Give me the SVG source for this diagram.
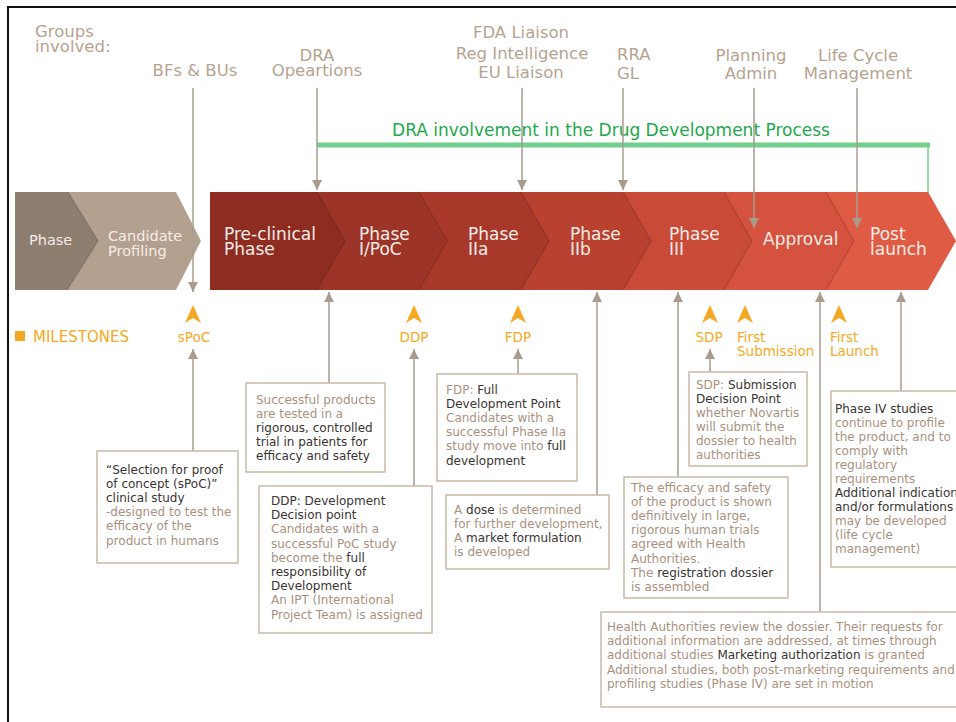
<svg xmlns="http://www.w3.org/2000/svg" width="956" height="722" viewBox="0 0 956 722">
<style>
text{font-family:"DejaVu Sans","Liberation Sans",sans-serif}
.top{font-size:16.5px;fill:#b5a391}
.ch{font-size:17px;fill:#f6ece8}
.chs{font-size:14.5px;fill:#f6ece8}
.ms{font-size:13.5px;fill:#f7a823}
.bx{fill:#fff;stroke:#c9b9aa;stroke-width:1.5}
.t{font-size:12px;fill:#a8927f}
.d{fill:#3a3432}
.ln{stroke:#a99c8f;stroke-width:1.5;fill:none}
.edge{fill:none;stroke:#000;stroke-opacity:.13;stroke-width:1.5}
.oa{fill:#f7a823}
</style>
<defs>
<marker id="ah" viewBox="0 0 10 10" refX="10" refY="5" markerWidth="10" markerHeight="10" orient="auto" markerUnits="userSpaceOnUse">
<path d="M0,0 L10,5 L0,10 Z" fill="#a99c8f"/>
</marker>
</defs>
<rect width="956" height="722" fill="#fff"/>
<path d="M8,722 V7 H956" fill="none" stroke="#111" stroke-width="2"/>

<g id="groups-label"><text class="top" x="35" y="37">Groups</text><text class="top" x="35" y="52">involved:</text></g>
<g id="grp-bfs"><text class="top" x="195" y="76" text-anchor="middle">BFs &amp; BUs</text></g>
<g id="grp-dra"><text class="top" x="317" y="61" text-anchor="middle">DRA</text><text class="top" x="317" y="76" text-anchor="middle">Opeartions</text></g>
<g id="grp-fda"><text class="top" x="521" y="38" text-anchor="middle">FDA Liaison</text><text class="top" x="522" y="59" text-anchor="middle">Reg Intelligence</text><text class="top" x="521" y="78" text-anchor="middle">EU Liaison</text></g>
<g id="grp-rra"><text class="top" x="617" y="60">RRA</text><text class="top" x="617" y="79">GL</text></g>
<g id="grp-plan"><text class="top" x="751" y="61" text-anchor="middle">Planning</text><text class="top" x="751" y="79" text-anchor="middle">Admin</text></g>
<g id="grp-lcm"><text class="top" x="858" y="61" text-anchor="middle">Life Cycle</text><text class="top" x="858" y="79" text-anchor="middle">Management</text></g>

<g id="dra-involvement">
<line x1="317" y1="145" x2="930" y2="145" stroke="#72cf8c" stroke-width="5"/>
<line x1="928" y1="145" x2="928" y2="193" stroke="#72cf8c" stroke-width="1.5"/>
<text x="611" y="136" text-anchor="middle" style="font-size:17px;fill:#1ea84c">DRA involvement in the Drug Development Process</text>
</g>

<g id="chevrons-pre">
<g id="ch-candidate"><polygon points="50,192 176,192 201,241 176,290 50,290" fill="#b3a08e"/><text class="chs" x="108" y="241">Candidate</text><text class="chs" x="108" y="256">Profiling</text></g>
<g id="ch-phase"><polygon points="15,192 68,192 98,241 67,290 15,290" fill="#8d7e70"/><polyline class="edge" points="68,192 98,241 67,290"/><text class="chs" x="29" y="245">Phase</text></g>
</g>

<g id="chevrons-dev">
<g id="ch-post"><polygon points="800,192 928,192 956,241 928,290 800,290" fill="#e05b44"/><text class="ch" x="870" y="240">Post</text><text class="ch" x="870" y="255">launch</text></g>
<g id="ch-approval"><polygon points="700,192 826,192 854,241 826,290 700,290" fill="#d4523e"/><polyline class="edge" points="826,192 854,241 826,290"/><text class="ch" x="763" y="245">Approval</text></g>
<g id="ch-p3"><polygon points="600,192 724,192 752,241 724,290 600,290" fill="#c84a37"/><polyline class="edge" points="724,192 752,241 724,290"/><text class="ch" x="669" y="240">Phase</text><text class="ch" x="669" y="255">III</text></g>
<g id="ch-p2b"><polygon points="500,192 623,192 651,241 623,290 500,290" fill="#b8412f"/><polyline class="edge" points="623,192 651,241 623,290"/><text class="ch" x="570" y="240">Phase</text><text class="ch" x="570" y="255">IIb</text></g>
<g id="ch-p2a"><polygon points="400,192 521,192 549,241 521,290 400,290" fill="#a8382a"/><polyline class="edge" points="521,192 549,241 521,290"/><text class="ch" x="468" y="240">Phase</text><text class="ch" x="468" y="255">IIa</text></g>
<g id="ch-p1"><polygon points="300,192 419,192 447,241 419,290 300,290" fill="#9c3427"/><polyline class="edge" points="419,192 447,241 419,290"/><text class="ch" x="359" y="240">Phase</text><text class="ch" x="359" y="255">I/PoC</text></g>
<g id="ch-pre"><polygon points="210,192 317,192 345,241 317,290 210,290" fill="#8e2c21"/><polyline class="edge" points="317,192 345,241 317,290"/><text class="ch" x="224" y="240">Pre-clinical</text><text class="ch" x="224" y="255">Phase</text></g>
</g>

<g id="milestones">
<rect x="15" y="331" width="10" height="10" fill="#f7a823"/>
<text class="ms" x="33" y="342" style="font-size:15px">MILESTONES</text>
<path class="oa" d="M193,305 L201,323 L193,318 L185,323 Z"/><text class="ms" x="194" y="342" text-anchor="middle">sPoC</text>
<path class="oa" d="M414,305 L422,323 L414,318 L406,323 Z"/><text class="ms" x="414" y="342" text-anchor="middle">DDP</text>
<path class="oa" d="M518,305 L526,323 L518,318 L510,323 Z"/><text class="ms" x="518" y="342" text-anchor="middle">FDP</text>
<path class="oa" d="M710,305 L718,323 L710,318 L702,323 Z"/><text class="ms" x="709" y="342" text-anchor="middle">SDP</text>
<path class="oa" d="M745,305 L753,323 L745,318 L737,323 Z"/><text class="ms" x="737" y="342">First</text><text class="ms" x="737" y="356">Submission</text>
<path class="oa" d="M839,305 L847,323 L839,318 L831,323 Z"/><text class="ms" x="830" y="342">First</text><text class="ms" x="830" y="356">Launch</text>
</g>

<g id="connectors">
<line class="ln" x1="193" y1="88" x2="193" y2="292" marker-end="url(#ah)"/>
<line class="ln" x1="317" y1="88" x2="317" y2="190" marker-end="url(#ah)"/>
<line class="ln" x1="522" y1="88" x2="522" y2="190" marker-end="url(#ah)"/>
<line class="ln" x1="623" y1="88" x2="623" y2="190" marker-end="url(#ah)"/>
<line class="ln" x1="754" y1="88" x2="754" y2="228" marker-end="url(#ah)"/>
<line class="ln" x1="857" y1="88" x2="857" y2="228" marker-end="url(#ah)"/>
<line class="ln" x1="193" y1="451" x2="193" y2="349" marker-end="url(#ah)"/>
<line class="ln" x1="329" y1="383" x2="329" y2="292" marker-end="url(#ah)"/>
<line class="ln" x1="414" y1="486" x2="414" y2="349" marker-end="url(#ah)"/>
<line class="ln" x1="518" y1="374" x2="518" y2="349" marker-end="url(#ah)"/>
<line class="ln" x1="597" y1="495" x2="597" y2="292" marker-end="url(#ah)"/>
<line class="ln" x1="678" y1="477" x2="678" y2="292" marker-end="url(#ah)"/>
<line class="ln" x1="710" y1="372" x2="710" y2="349" marker-end="url(#ah)"/>
<line class="ln" x1="820" y1="612" x2="820" y2="292" marker-end="url(#ah)"/>
<line class="ln" x1="901" y1="391" x2="901" y2="292" marker-end="url(#ah)"/>
</g>

<g id="box-spoc"><rect class="bx" x="97" y="451" width="141" height="112"/>
<text class="t" x="106"><tspan class="d" y="474">“Selection for proof</tspan><tspan class="d" x="106" y="488">of concept (sPoC)”</tspan><tspan class="d" x="106" y="502">clinical study</tspan><tspan x="106" y="516">-designed to test the</tspan><tspan x="106" y="530">efficacy of the</tspan><tspan x="106" y="545">product in humans</tspan></text></g>

<g id="box-successful"><rect class="bx" x="246" y="383" width="139" height="89"/>
<text class="t" x="256"><tspan y="404">Successful products</tspan><tspan x="256" y="418">are tested in a</tspan><tspan class="d" x="256" y="432">rigorous, controlled</tspan><tspan class="d" x="256" y="446">trial in patients for</tspan><tspan class="d" x="256" y="460">efficacy and safety</tspan></text></g>

<g id="box-ddp"><rect class="bx" x="259" y="486" width="173" height="147"/>
<text class="t" x="271"><tspan class="d" y="505">DDP: Development</tspan><tspan class="d" x="271" y="519">Decision point</tspan><tspan x="271" y="533">Candidates with a</tspan><tspan x="271" y="548">successful PoC study</tspan><tspan x="271" y="562">become the <tspan class="d">full</tspan></tspan><tspan class="d" x="271" y="576">responsibility of</tspan><tspan class="d" x="271" y="590">Development</tspan><tspan x="271" y="604">An IPT (International</tspan><tspan x="271" y="619">Project Team) is assigned</tspan></text></g>

<g id="box-fdp"><rect class="bx" x="437" y="374" width="140" height="107"/>
<text class="t" x="446"><tspan y="394">FDP: <tspan class="d">Full</tspan></tspan><tspan class="d" x="446" y="408">Development Point</tspan><tspan x="446" y="422">Candidates with a</tspan><tspan x="446" y="436">successful Phase IIa</tspan><tspan x="446" y="450">study move into <tspan class="d">full</tspan></tspan><tspan class="d" x="446" y="465">development</tspan></text></g>

<g id="box-dose"><rect class="bx" x="446" y="495" width="163" height="74"/>
<text class="t" x="454"><tspan y="514">A <tspan class="d">dose</tspan> is determined</tspan><tspan x="454" y="528">for further development,</tspan><tspan x="454" y="542">A <tspan class="d">market formulation</tspan></tspan><tspan x="454" y="556">is developed</tspan></text></g>

<g id="box-sdp"><rect class="bx" x="689" y="372" width="118" height="94"/>
<text class="t" x="696"><tspan y="389">SDP: <tspan class="d">Submission</tspan></tspan><tspan class="d" x="696" y="403">Decision Point</tspan><tspan x="696" y="417">whether Novartis</tspan><tspan x="696" y="431">will submit the</tspan><tspan x="696" y="445">dossier to health</tspan><tspan x="696" y="459">authorities</tspan></text></g>

<g id="box-efficacy"><rect class="bx" x="624" y="477" width="164" height="121"/>
<text class="t" x="631"><tspan y="492">The efficacy and safety</tspan><tspan x="631" y="506">of the product is shown</tspan><tspan x="631" y="520">definitively in large,</tspan><tspan x="631" y="534">rigorous human trials</tspan><tspan x="631" y="548">agreed with Health</tspan><tspan x="631" y="563">Authorities.</tspan><tspan x="631" y="577">The <tspan class="d">registration dossier</tspan></tspan><tspan x="631" y="591">is assembled</tspan></text></g>

<g id="box-phase4"><rect class="bx" x="831" y="391" width="140" height="176"/>
<text class="t" x="835"><tspan class="d" y="413">Phase IV studies</tspan><tspan x="835" y="427">continue to profile</tspan><tspan x="835" y="441">the product, and to</tspan><tspan x="835" y="455">comply with</tspan><tspan x="835" y="469">regulatory</tspan><tspan x="835" y="483">requirements</tspan><tspan class="d" x="835" y="497">Additional indications</tspan><tspan class="d" x="835" y="511">and/or formulations</tspan><tspan x="835" y="525">may be developed</tspan><tspan x="835" y="539">(life cycle</tspan><tspan x="835" y="553">management)</tspan></text></g>

<g id="box-health"><rect class="bx" x="601" y="612" width="370" height="95"/>
<text class="t" x="607"><tspan y="631">Health Authorities review the dossier. Their requests for</tspan><tspan x="607" y="645">additional information are addressed, at times through</tspan><tspan x="607" y="659">additional studies <tspan class="d">Marketing authorization</tspan> is granted</tspan><tspan x="607" y="674">Additional studies, both post-marketing requirements and</tspan><tspan x="607" y="688">profiling studies (Phase IV) are set in motion</tspan></text></g>
</svg>
